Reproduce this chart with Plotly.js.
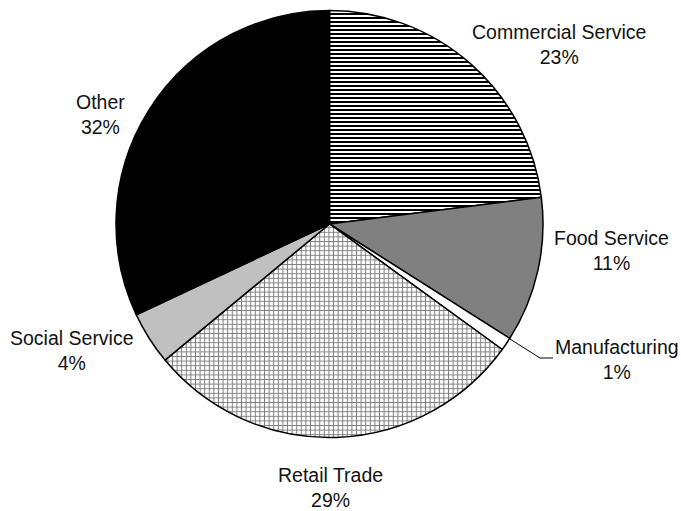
<!DOCTYPE html>
<html>
<head>
<meta charset="utf-8">
<script src="https://cdn.plot.ly/plotly-3.0.1.min.js"></script>
<style>
  html, body { margin: 0; padding: 0; background: #ffffff; }
  #chart { width: 681px; height: 511px; }
</style>
</head>
<body>
<div id="chart"></div>
<script>
// Share of employment by sector (percent)
const sectors = ['Commercial Service', 'Food Service', 'Manufacturing', 'Retail Trade', 'Social Service', 'Other'];
const shares = [23, 11, 1, 29, 4, 32];

const W = 681, H = 511;
const px = x => x / W;
const py = y => 1 - y / H;

// Slice fills: solid greys plus two hatched patterns
const fillColors = ['#ffffff', '#808080', '#ffffff', '#ffffff', '#c0c0c0', '#000000'];
const patternShapes = ['-', '', '', '+', '', ''];
const patternFg = ['#000000', '#808080', '#ffffff', '#808080', '#c0c0c0', '#000000'];
const patternBg = ['#ffffff', '#808080', '#ffffff', '#ffffff', '#c0c0c0', '#000000'];
const patternSize = [4, 4, 4, 4.6, 4, 4];
const patternSolidity = [0.5, 0.3, 0.3, 0.4, 0.3, 0.3];

// Label anchors (pixel centres of each two-line label)
const labelAt = [[559, 45], [611, 250], [617, 359], [330, 487], [72, 350], [101, 114]];

const trace = {
  type: 'pie',
  labels: sectors,
  values: shares,
  sort: false,
  direction: 'clockwise',
  rotation: 0,
  textinfo: 'none',
  hoverinfo: 'label+percent',
  domain: { x: [px(116), px(543)], y: [py(438), py(10)] },
  marker: {
    colors: fillColors,
    line: { color: '#000000', width: 1.5 },
    pattern: {
      shape: patternShapes,
      fgcolor: patternFg,
      bgcolor: patternBg,
      size: patternSize,
      solidity: patternSolidity,
      fillmode: 'replace'
    }
  }
};

const annotations = sectors.map((name, i) => ({
  text: name + '<br>' + shares[i] + '%',
  x: px(labelAt[i][0]),
  y: py(labelAt[i][1]),
  xref: 'paper', yref: 'paper',
  xanchor: 'center', yanchor: 'middle',
  align: 'center',
  showarrow: false,
  font: { family: 'Liberation Sans, Arial, sans-serif', size: 19.5, color: '#111111' }
}));

// Leader line for the thin Manufacturing slice
const leader = {
  type: 'path',
  xref: 'paper', yref: 'paper',
  path: 'M ' + px(510) + ' ' + py(339) + ' L ' + px(540) + ' ' + py(358) + ' L ' + px(553) + ' ' + py(358),
  line: { color: '#000000', width: 1 }
};

const layout = {
  width: W,
  height: H,
  margin: { l: 0, r: 0, t: 0, b: 0 },
  paper_bgcolor: '#ffffff',
  showlegend: false,
  annotations: annotations,
  shapes: [leader]
};

Plotly.newPlot('chart', [trace], layout, { displayModeBar: false, staticPlot: true });
</script>
</body>
</html>
